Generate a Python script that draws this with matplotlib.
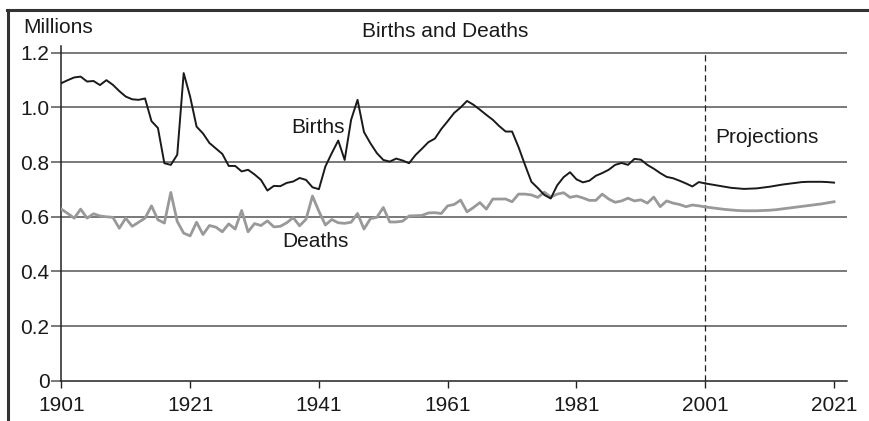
import numpy as np
import matplotlib
matplotlib.use("Agg")
import matplotlib.pyplot as plt
from matplotlib.lines import Line2D

plt.rcParams['font.family'] = ['Liberation Sans', 'DejaVu Sans']

# Historical data, 1901-2001 (millions)
years_hist = np.arange(1901, 2002)
births_hist = [
    1.089, 1.100, 1.110, 1.113, 1.095, 1.097, 1.082, 1.100, 1.083, 1.060,
    1.040, 1.030, 1.028, 1.033, 0.950, 0.925, 0.796, 0.790, 0.827, 1.126,
    1.040, 0.930, 0.905, 0.870, 0.850, 0.830, 0.786, 0.786, 0.766, 0.772,
    0.755, 0.735, 0.696, 0.713, 0.712, 0.724, 0.729, 0.742, 0.735, 0.708,
    0.701, 0.784, 0.833, 0.879, 0.808, 0.955, 1.028, 0.910, 0.869, 0.833,
    0.808, 0.802, 0.813, 0.806, 0.796, 0.826, 0.849, 0.873, 0.886, 0.921,
    0.950, 0.980, 1.000, 1.024, 1.010, 0.992, 0.973, 0.955, 0.932, 0.912,
    0.912, 0.855, 0.790, 0.728, 0.705, 0.680, 0.667, 0.715, 0.745, 0.763,
    0.737, 0.726, 0.732, 0.750, 0.760, 0.772, 0.790, 0.797, 0.790, 0.812,
    0.809, 0.790, 0.776, 0.760, 0.746, 0.741, 0.732, 0.722, 0.711, 0.727,
    0.722,
]
deaths_hist = [
    0.628, 0.612, 0.595, 0.628, 0.595, 0.611, 0.603, 0.600, 0.598, 0.558,
    0.595, 0.565, 0.580, 0.595, 0.640, 0.589, 0.577, 0.689, 0.583, 0.540,
    0.530, 0.580, 0.535, 0.568, 0.562, 0.545, 0.574, 0.555, 0.623, 0.545,
    0.575, 0.568, 0.585, 0.563, 0.565, 0.578, 0.597, 0.567, 0.591, 0.676,
    0.620, 0.570, 0.590, 0.578, 0.576, 0.580, 0.612, 0.555, 0.593, 0.598,
    0.634, 0.581, 0.581, 0.584, 0.603, 0.604, 0.605, 0.614, 0.615, 0.612,
    0.640, 0.645, 0.661, 0.618, 0.634, 0.652, 0.628, 0.665, 0.665, 0.665,
    0.655, 0.683, 0.683, 0.680, 0.671, 0.690, 0.672, 0.683, 0.688, 0.671,
    0.676, 0.669, 0.660, 0.660, 0.683, 0.665, 0.653, 0.658, 0.668, 0.658,
    0.662, 0.650, 0.672, 0.637, 0.658, 0.650, 0.645, 0.637, 0.643, 0.640,
    0.636,
]

# Projections, 2001-2021
years_proj = np.arange(2001, 2022)
births_proj = [
    0.722, 0.718, 0.714, 0.710, 0.706, 0.704, 0.702, 0.703, 0.704, 0.707,
    0.710, 0.714, 0.718, 0.721, 0.724, 0.727, 0.728, 0.728, 0.728, 0.727,
    0.725,
]
deaths_proj = [
    0.636, 0.633, 0.630, 0.627, 0.625, 0.623, 0.622, 0.622, 0.622, 0.623,
    0.624, 0.626, 0.629, 0.632, 0.635, 0.638, 0.641, 0.644, 0.647, 0.651,
    0.655,
]

xticks = [1901, 1921, 1941, 1961, 1981, 2001, 2021]
yticks = [0, 0.2, 0.4, 0.6, 0.8, 1.0, 1.2]
ytick_labels = ['0', '0.2', '0.4', '0.6', '0.8', '1.0', '1.2']

fig = plt.figure(figsize=(8.7, 4.21), dpi=100)
ax = fig.add_axes([0.0705, 0.0957, 0.903, 0.795])

birth_col = '#1a1a1a'
death_col = '#999999'
grid_col = '#555555'

for v in yticks[1:]:
    ax.axhline(v, color=grid_col, lw=1.1, zorder=1)

ax.axvline(2001, ymin=0, ymax=1.2 / 1.225, color='#222222', lw=0.9,
           linestyle=(0, (5, 3)), zorder=2)

ax.plot(years_hist, deaths_hist, color=death_col, lw=2.0, zorder=3)
ax.plot(years_proj, deaths_proj, color=death_col, lw=2.0, zorder=3)
ax.plot(years_hist, births_hist, color=birth_col, lw=1.4, zorder=4)
ax.plot(years_proj, births_proj, color=birth_col, lw=1.4, zorder=4)

ax.set_xlim(1901, 2023)
ax.set_ylim(0, 1.225)
ax.set_xticks(xticks)
ax.set_xticklabels([str(x) for x in xticks])
ax.set_yticks(yticks)
ax.set_yticklabels(ytick_labels)

for side in ['top', 'right']:
    ax.spines[side].set_visible(False)
for side in ['left', 'bottom']:
    ax.spines[side].set_color('#222222')
    ax.spines[side].set_linewidth(1.1)

ax.tick_params(axis='x', length=5, width=1, color='#222222', pad=6,
               labelsize=15, labelcolor='#1a1a1a')
ax.tick_params(axis='y', length=7, width=1.1, color=grid_col, pad=1.5,
               labelsize=15, labelcolor='#1a1a1a')

ax.text(1936.7, 0.907, 'Births', fontsize=15, color='#1a1a1a',
        ha='left', va='baseline')
ax.text(1935.3, 0.490, 'Deaths', fontsize=15, color='#1a1a1a',
        ha='left', va='baseline')
ax.text(2002.6, 0.871, 'Projections', fontsize=15, color='#1a1a1a',
        ha='left', va='baseline')

fig.text(0.0264, 0.9216, 'Millions', fontsize=15, color='#1a1a1a',
         ha='left', va='baseline')
fig.text(0.5115, 0.9114, 'Births and Deaths', fontsize=15, color='#1a1a1a',
         ha='center', va='baseline')

# frame lines on the left and top of the figure
fig.add_artist(Line2D([8 / 870, 8 / 870], [0, 1 - 10 / 421],
                      color='#333333', lw=2.2))
fig.add_artist(Line2D([7 / 870, 1], [1 - 10 / 421, 1 - 10 / 421],
                      color='#333333', lw=2.2))

fig.savefig('out.png', dpi=100)
